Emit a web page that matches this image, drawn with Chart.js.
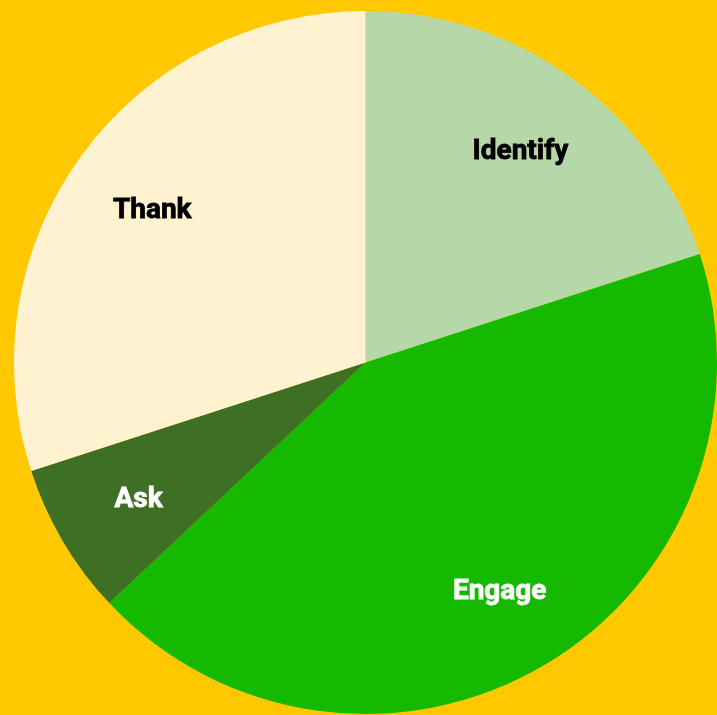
<!DOCTYPE html>
<meta charset="utf-8">
<title>Pie</title>
<style>
  html, body { margin: 0; background: #ffc800; }
  #wrap { width: 717px; height: 715px; }
</style>
<div id="wrap"><canvas id="chart"></canvas></div>
<script src="https://cdn.jsdelivr.net/npm/chart.js@4"></script>
<script>
  const labels = ["Identify", "Engage", "Ask", "Thank"]
  const values = [20, 43, 7, 30]
  const colors = ["#b6d7a8", "#14b900", "#3d7024", "#fff2d1"]
  const textColors = ["#000", "#fff", "#fff", "#000"]

  const sliceLabels = {
    id: "sliceLabels",
    afterDatasetsDraw(chart) {
      const ctx = chart.ctx
      ctx.save()
      ctx.font = "bold 28px Roboto"
      ctx.textAlign = "center"
      ctx.textBaseline = "middle"
      ctx.lineWidth = 0.8
      chart.getDatasetMeta(0).data.forEach((arc, i) => {
        const { x, y, startAngle, endAngle, outerRadius } = arc.getProps(["x", "y", "startAngle", "endAngle", "outerRadius"])
        const a = (startAngle + endAngle) / 2
        const r = outerRadius * 0.75
        const tx = x + Math.cos(a) * r
        const ty = y + Math.sin(a) * r + 3
        ctx.fillStyle = textColors[i]
        ctx.strokeStyle = textColors[i]
        ctx.fillText(labels[i], tx, ty)
        ctx.strokeText(labels[i], tx, ty)
      })
      ctx.restore()
    },
  }

  new Chart(document.getElementById("chart"), {
    type: "pie",
    data: {
      labels,
      datasets: [{ data: values, backgroundColor: colors, borderWidth: 0 }],
    },
    options: {
      responsive: true,
      maintainAspectRatio: false,
      animation: false,
      layout: { padding: { left: 14, top: 10, right: 0, bottom: 0 } },
      plugins: { legend: { display: false }, tooltip: { enabled: false } },
    },
    plugins: [sliceLabels],
  })
</script>
